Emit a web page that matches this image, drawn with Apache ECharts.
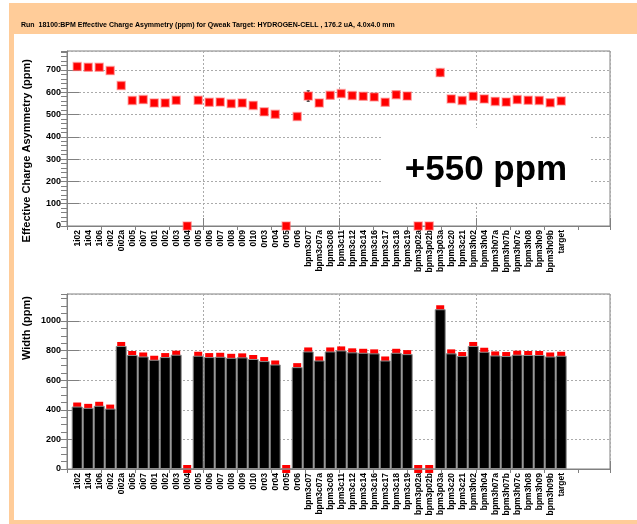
<!DOCTYPE html>
<html>
<head>
<meta charset="utf-8">
<script src="https://cdn.jsdelivr.net/npm/echarts@6/dist/echarts.min.js"></script>
<style>
html, body { margin: 0; padding: 0; background: #fff; }
#frame { position: absolute; left: 9px; top: 3px; width: 628px; height: 521px; background: #ffcc99; }
#panel { position: absolute; left: 14px; top: 34px; width: 623px; height: 486px; background: #fff; }
#chart { position: absolute; left: 0; top: 0; width: 637px; height: 524px; }
</style>
</head>
<body>
<div id="frame"></div>
<div id="panel"></div>
<div id="chart"></div>
<script>
// bpm names along the x axis
const bpmNames = ['1i02', '1i04', '1i06', '0i02', '0i02a', '0i05', '0i07', '0l01', '0l02', '0l03',
  '0l04', '0l05', '0l06', '0l07', '0l08', '0l09', '0l10', '0r03', '0r04', '0r05',
  '0r06', 'bpm3c07', 'bpm3c07a', 'bpm3c08', 'bpm3c11', 'bpm3c12', 'bpm3c14', 'bpm3c16', 'bpm3c17', 'bpm3c18',
  'bpm3c19', 'bpm3p02a', 'bpm3p02b', 'bpm3p03a', 'bpm3c20', 'bpm3c21', 'bpm3h02', 'bpm3h04', 'bpm3h07a', 'bpm3h07b',
  'bpm3h07c', 'bpm3h08', 'bpm3h09', 'bpm3h09b', 'target'];

// effective charge asymmetry (ppm)
const asymValues = [715, 712, 712, 697, 630, 563, 567, 552, 552, 564,
  0, 564, 555, 556, 549, 552, 541, 512, 501, 0,
  491, 583, 552, 586, 594, 585, 582, 579, 555, 589,
  583, 0, 0, 688, 570, 563, 582, 570, 559, 556,
  567, 564, 563, 553, 561];
const asymErrors = [6, 6, 6, 6, 6, 6, 6, 6, 6, 6,
  0, 6, 6, 6, 6, 6, 6, 6, 6, 0,
  6, 23, 8, 8, 8, 8, 8, 8, 8, 8,
  8, 0, 0, 15, 8, 8, 8, 8, 8, 8,
  8, 8, 8, 8, 6];

// width (ppm)
const widthValues = [422, 413, 427, 408, 831, 770, 760, 738, 756, 772,
  0, 765, 756, 758, 751, 754, 743, 729, 706, 0,
  688, 794, 733, 794, 801, 788, 785, 781, 733, 785,
  776, 0, 0, 1079, 781, 763, 831, 792, 767, 763,
  772, 770, 770, 760, 765];

const titleText = 'Run  18100:BPM Effective Charge Asymmetry (ppm) for Qweak Target: HYDROGEN-CELL , 176.2 uA, 4.0x4.0 mm';
const noteText = '+550 ppm';

const font = "'Liberation Sans', Arial, Helvetica, sans-serif";
const gridColor = '#aaaaaa';
const frameColor = '#808080';

let chart = echarts.init(document.getElementById('chart'));

// frame axes (ticks + dotted grid), ROOT style
function frameX(gridIndex) {
  return [{
    type: 'value', gridIndex: gridIndex, min: 0, max: 15.94, interval: 4,
    axisLine: { show: true, lineStyle: { color: frameColor } },
    axisTick: { show: true, inside: true, length: 8, lineStyle: { color: frameColor } },
    axisLabel: { show: false },
    splitLine: { show: true, lineStyle: { color: gridColor, type: [2, 2] } }
  }, {
    type: 'value', gridIndex: gridIndex, min: 0, max: 15.94, interval: 1,
    axisLine: { show: false },
    axisTick: { show: true, inside: true, length: 4, lineStyle: { color: frameColor } },
    axisLabel: { show: false },
    splitLine: { show: false }
  }];
}
function frameY(gridIndex, max, major, minor) {
  return [{
    type: 'value', gridIndex: gridIndex, min: 0, max: max, interval: major,
    axisLine: { show: true, lineStyle: { color: frameColor } },
    axisTick: { show: true, inside: true, length: 12, lineStyle: { color: frameColor } },
    axisLabel: {
      show: true, showMaxLabel: false, margin: 6, color: '#000', fontSize: 9, fontWeight: 'bold', fontFamily: font,
      formatter: function (v) { return String(v); }
    },
    splitLine: { show: true, lineStyle: { color: gridColor, type: [2, 2] } }
  }, {
    type: 'value', gridIndex: gridIndex, min: 0, max: max, interval: minor,
    axisLine: { show: false },
    axisTick: { show: true, inside: true, length: 6, lineStyle: { color: frameColor } },
    axisLabel: { show: false },
    splitLine: { show: false }
  }];
}
function dataX(gridIndex) {
  return {
    type: 'category', gridIndex: gridIndex, data: bpmNames, boundaryGap: true,
    axisLine: { show: false }, axisTick: { show: false },
    axisLabel: { interval: 0, rotate: 90, margin: 4, color: '#000', fontSize: 8.5, fontWeight: 'bold', fontFamily: font },
    splitLine: { show: false }
  };
}
function dataY(gridIndex, max) {
  return {
    type: 'value', gridIndex: gridIndex, min: 0, max: max, show: false,
    splitLine: { show: false }
  };
}

let option = {
  backgroundColor: 'transparent',
  animation: false,
  grid: [
    { left: 67, top: 51, width: 543, height: 175, show: true, backgroundColor: '#fff', borderColor: frameColor, borderWidth: 1, outerBoundsMode: 'none' },
    { left: 71.7, top: 51, width: 495, height: 175, outerBoundsMode: 'none' },
    { left: 67, top: 294, width: 543, height: 175, show: true, backgroundColor: '#fff', borderColor: frameColor, borderWidth: 1, outerBoundsMode: 'none' },
    { left: 71.7, top: 294, width: 495, height: 175, outerBoundsMode: 'none' }
  ],
  // xAxis 0,1 frame top / 2 data top / 3,4 frame bottom / 5 data bottom
  xAxis: [].concat(frameX(0), [dataX(1)], frameX(2), [dataX(3)]),
  // yAxis 0,1 frame top / 2 data top / 3,4 frame bottom / 5 data bottom
  yAxis: [].concat(frameY(0, 785, 100, 20), [dataY(1, 785)], frameY(2, 1182, 200, 50), [dataY(3, 1182)]),
  series: [
    { // error bars
      type: 'custom', xAxisIndex: 2, yAxisIndex: 2, z: 3, clip: false,
      data: asymValues.map((v, i) => [i, v, asymErrors[i]]),
      renderItem: function (params, api) {
        let lo = api.coord([api.value(0), api.value(1) - api.value(2)]);
        let hi = api.coord([api.value(0), api.value(1) + api.value(2)]);
        let st = { stroke: '#000', lineWidth: 1 };
        return {
          type: 'group', children: [
            { type: 'line', shape: { x1: lo[0], y1: lo[1], x2: hi[0], y2: hi[1] }, style: st },
            { type: 'line', shape: { x1: lo[0] - 1.5, y1: lo[1], x2: lo[0] + 1.5, y2: lo[1] }, style: st },
            { type: 'line', shape: { x1: hi[0] - 1.5, y1: hi[1], x2: hi[0] + 1.5, y2: hi[1] }, style: st }
          ]
        };
      }
    },
    { // asymmetry markers
      type: 'scatter', xAxisIndex: 2, yAxisIndex: 2, z: 4, clip: false,
      symbol: 'rect', symbolSize: 8,
      itemStyle: { color: '#ff0000', borderColor: 'rgba(255,120,120,0.5)', borderWidth: 1.5, opacity: 1 },
      data: asymValues
    },
    { // width markers, partly hidden by bars
      type: 'scatter', xAxisIndex: 5, yAxisIndex: 5, z: 3, clip: false,
      symbol: 'rect', symbolSize: 8,
      itemStyle: { color: '#ff0000', opacity: 1 },
      data: widthValues
    },
    { // width bars
      type: 'bar', xAxisIndex: 5, yAxisIndex: 5, z: 4,
      barWidth: '100%', barGap: '0%',
      itemStyle: { color: '#000', borderColor: '#8c8c8c', borderWidth: 1 },
      data: widthValues
    }
  ],
  graphic: [
    { type: 'text', x: 21, y: 25, style: { text: titleText, fill: '#000', font: 'bold 7px ' + font, textVerticalAlign: 'middle' } },
    { type: 'text', x: 27, y: 59, rotation: Math.PI / 2, style: { text: 'Effective Charge Asymmetry (ppm)', fill: '#000', font: 'bold 11px ' + font, textAlign: 'right', textVerticalAlign: 'middle' } },
    { type: 'text', x: 27, y: 296, rotation: Math.PI / 2, style: { text: 'Width (ppm)', fill: '#000', font: 'bold 11px ' + font, textAlign: 'right', textVerticalAlign: 'middle' } },
    { type: 'rect', z: 10, shape: { x: 382, y: 128, width: 209, height: 73 }, style: { fill: '#fff' } },
    { type: 'text', z: 11, x: 486, y: 170.5, style: { text: noteText, fill: '#000', font: 'bold 35px ' + font, textAlign: 'center', textVerticalAlign: 'middle' } }
  ]
};

chart.setOption(option);
window.addEventListener('resize', function () {
  chart.resize();
});
</script>
</body>
</html>
